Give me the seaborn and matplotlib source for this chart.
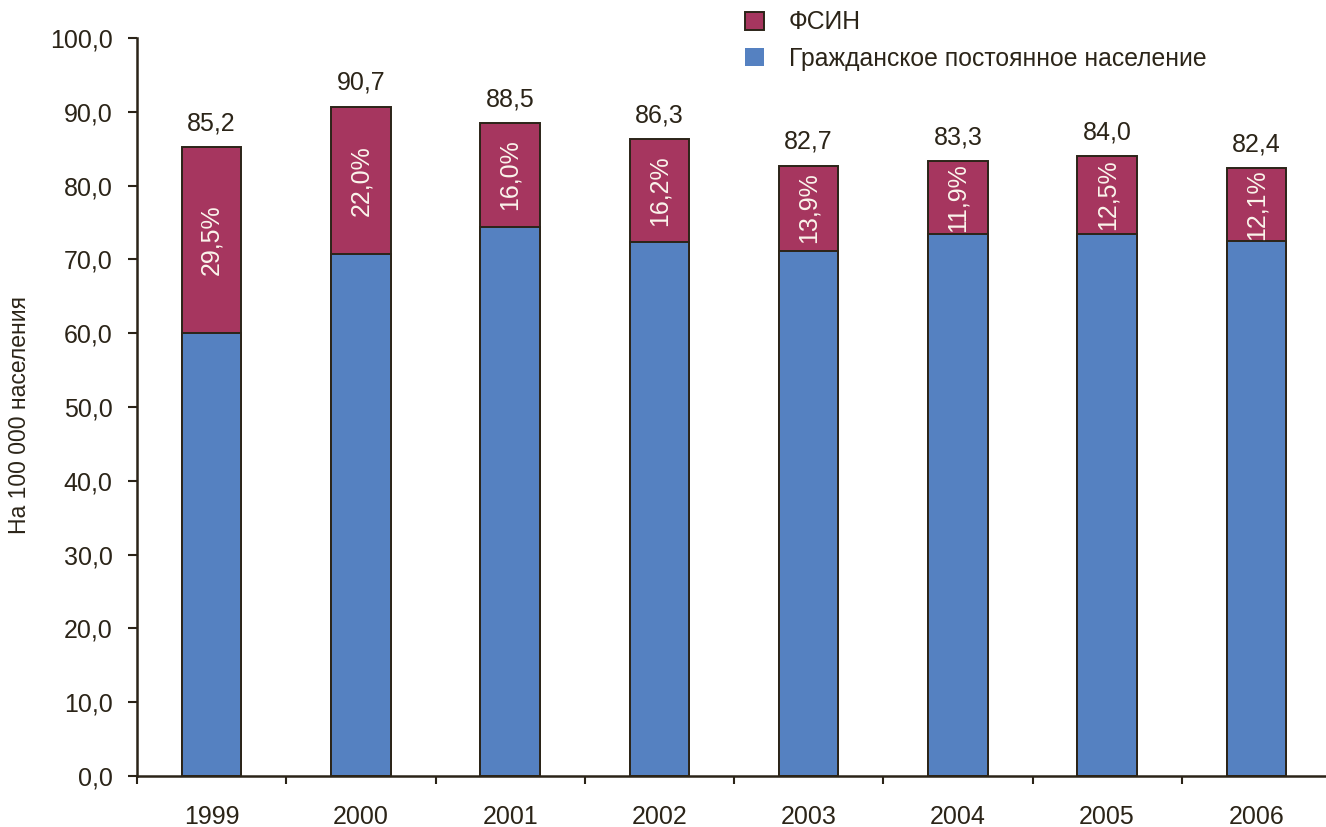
import matplotlib
matplotlib.use("Agg")
import matplotlib.pyplot as plt
from matplotlib.patches import Patch
from matplotlib.ticker import FixedLocator
import seaborn as sns
import pandas as pd

years = ["1999", "2000", "2001", "2002", "2003", "2004", "2005", "2006"]
totals = [85.2, 90.7, 88.5, 86.3, 82.7, 83.3, 84.0, 82.4]
fsin_share = [29.5, 22.0, 16.0, 16.2, 13.9, 11.9, 12.5, 12.1]

fsin_name = "ФСИН"
civil_name = "Гражданское постоянное население"
ylabel = "На 100 000 населения"

maroon = "#A6365F"
blue = "#5581C1"
ink = "#2B2418"

df = pd.DataFrame({"year": years, "total": totals, "share": fsin_share})
df["civil"] = df["total"] * (1 - df["share"] / 100)

sns.set_style("ticks")
plt.rcParams["font.family"] = ["Liberation Sans", "DejaVu Sans"]
plt.rcParams["font.size"] = 18

fig = plt.figure(figsize=(13.26, 8.27), dpi=100)
W, H = 1326, 827
ax = fig.add_axes([137 / W, (H - 776) / H, 1194 / W, 738 / H])

# full bar height in maroon, civilian part overdrawn in blue
sns.barplot(data=df, x="year", y="total", color=maroon, width=0.4,
            edgecolor=ink, linewidth=1.4, saturation=1, ax=ax)
sns.barplot(data=df, x="year", y="civil", color=blue, width=0.4,
            edgecolor=ink, linewidth=1.4, saturation=1, ax=ax)

for i, row in df.iterrows():
    ax.text(i, row["total"] + 1.6, f"{row['total']:.1f}".replace(".", ","),
            ha="center", va="bottom", fontsize=18, color=ink)
    mid = (row["total"] + row["civil"]) / 2
    ax.text(i, mid, f"{row['share']:.1f}%".replace(".", ","),
            ha="center", va="center", rotation=90, fontsize=18, color="#FBF5EC")

ax.set_xlim(-0.5, 7.5)
ax.set_ylim(0, 100)
ax.set_yticks(range(0, 101, 10))
ax.set_yticklabels([f"{v},0" for v in range(0, 101, 10)], fontsize=18, color=ink)
ax.set_xlabel("")
ax.set_ylabel(ylabel, fontsize=16.5, color=ink)
ax.yaxis.set_label_coords(-0.0885, 0.489)

ax.tick_params(axis="y", length=6.5, width=1.5, color=ink, pad=11)
ax.tick_params(axis="x", which="major", length=0, pad=21, labelsize=18, labelcolor=ink)
ax.xaxis.set_minor_locator(FixedLocator([i - 0.5 for i in range(8)]))
ax.tick_params(axis="x", which="minor", length=6, width=1.5, color=ink, direction="out")

sns.despine(ax=ax)
for s in ("left", "bottom"):
    ax.spines[s].set_color(ink)
    ax.spines[s].set_linewidth(1.8)

handles = [Patch(facecolor=maroon, edgecolor=ink, linewidth=1.4, label=fsin_name),
           Patch(facecolor=blue, edgecolor="none", label=civil_name)]
fig.legend(handles=handles, loc="upper left", bbox_to_anchor=(733 / W, 1 + 2 / H),
           frameon=False, fontsize=17.8, handlelength=0.75, handleheight=0.75,
           handletextpad=1.0, labelspacing=0.5, labelcolor=ink, borderpad=0.0)

fig.savefig("out.png", dpi=100)
